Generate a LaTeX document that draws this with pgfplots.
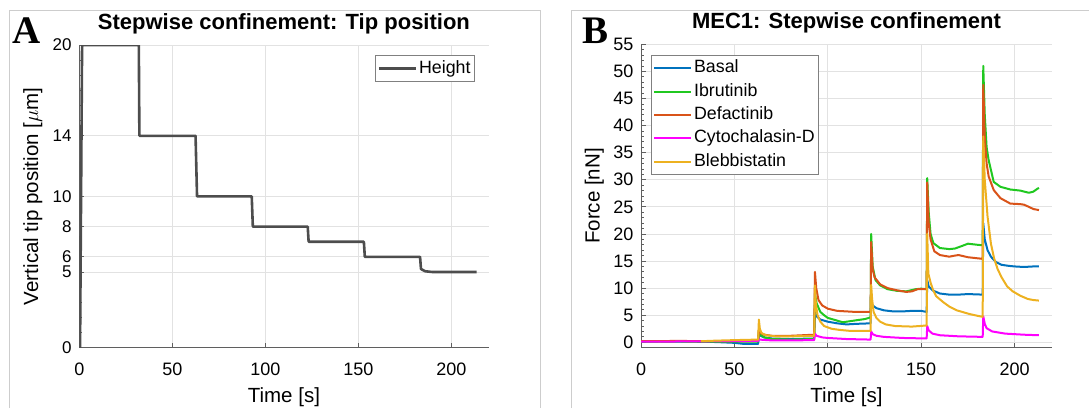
\documentclass[border=0pt]{standalone}
\usepackage{pgfplots}
\pgfplotsset{compat=1.18}
\usepackage{fontspec}
\setmainfont{Liberation Sans}
\newfontfamily\panelfont{Liberation Serif}
\definecolor{cBasal}{RGB}{0,114,189}
\definecolor{cIbru}{RGB}{32,200,32}
\definecolor{cDefa}{RGB}{217,83,25}
\definecolor{cCyto}{RGB}{255,0,255}
\definecolor{cBleb}{RGB}{237,177,32}
\definecolor{cHeight}{RGB}{77,77,77}
\definecolor{gridc}{RGB}{226,226,226}
\definecolor{axc}{RGB}{95,95,95}
\definecolor{framec}{RGB}{205,205,205}
\pgfplotsset{mystyle/.style={
  scale only axis,
  axis lines=left,
  axis line style={-, draw=axc, line width=1pt},
  tick align=inside,
  major tick length=5pt, minor tick length=3pt,
  every tick/.style={draw=axc, line width=0.8pt},
  grid=major,
  major grid style={draw=gridc, line width=0.8pt},
  xmin=0, xmax=220,
  xtick={0,50,...,200},
  /pgf/number format/assume math mode=true,
  tick label style={font=\fontsize{18}{18}\selectfont},
  xticklabel style={anchor=base, yshift=-27.3pt, inner sep=0pt},
  yticklabel style={anchor=east, xshift=-7.5pt, inner sep=0pt},
  label style={font=\fontsize{20.5}{20.5}\selectfont},
  xlabel style={at={(axis description cs:0.5,0)}, anchor=base, yshift=-54.3pt},
  ylabel style={at={(axis description cs:0,0.5)}, rotate=0, anchor=base, yshift=41.3pt},
  title style={font=\bfseries\fontsize{22}{22}\selectfont, at={(axis description cs:0.5,1)}, anchor=base, yshift=10pt},
  legend style={font=\fontsize{17.8}{17.8}\selectfont, draw=gray, line width=0.8pt, inner xsep=2pt, inner ysep=1.5pt,
     nodes={inner xsep=2pt, inner ysep=3.15pt, text height=13pt, text depth=4pt}},
  legend cell align=left,
  legend image code/.code={\draw[#1] (0pt,0pt) -- (37pt,0pt);},
}}
\begin{document}
\begin{tikzpicture}
\useasboundingbox (0pt,0pt) rectangle (1089pt,-408pt);
\draw[framec, line width=1pt] (9pt,-408pt) -- (9pt,-10pt) -- (540pt,-10pt) -- (540pt,-408pt);
\draw[framec, line width=1pt] (571pt,-408pt) -- (571pt,-10pt) -- (1089pt,-10pt);
\node[anchor=base west, inner sep=0pt, font=\panelfont\bfseries\fontsize{39}{39}\selectfont] at (12pt,-43pt) {A};
\node[anchor=base west, inner sep=0pt, font=\panelfont\bfseries\fontsize{39}{39}\selectfont] at (582pt,-43pt) {B};

\begin{axis}[mystyle,
  at={(79.3pt,-347.7pt)}, anchor=south west,
  width=409.2pt, height=302.7pt,
  ymin=0, ymax=20,
  ytick={0,5,6,8,10,14,20},
  minor ytick={1,2,3,4,7,9,11,12,13,15,16,17,18,19},
  yticklabel style={font=\fontsize{17}{17}\selectfont},
  title={Stepwise confinement: Tip position},
  xlabel={Time [s]},
  ylabel={Vertical tip position [$\mu$m]},
  legend style={at={(0.967,0.967)}, anchor=north east},
]
\addplot[cHeight, line width=2.6pt, line join=round] coordinates {
(0,0) (0.4,0) (1.5,20) (32,20) (32.3,14) (62.5,14) (63.3,10) (92.7,10) (93.3,8) (122.8,8) (123.3,7) (153,7) (153.5,6) (183.2,6) (183.7,5.2) (186,5.05) (190,5) (213.6,5)
};
\addlegendentry{Height}
\end{axis}

\begin{axis}[mystyle,
  at={(641pt,-347.7pt)}, anchor=south west,
  width=411pt, height=303.4pt,
  ymin=-1, ymax=55,
  ytick={0,5,...,55},
  minor y tick num=4,
  title={MEC1: Stepwise confinement},
  xlabel={Time [s]},
  ylabel={Force [nN]},
  legend style={at={(0.0236,0.965)}, anchor=north west},
]
\addplot[cBasal, line width=2pt, line join=round] coordinates {
(0,0.1) (10,0.15) (20,0.1) (30,0.1) (40,0.05) (50,-0.1) (55,-0.3) (62.7,-0.3) (63.1,1.6) (64,1.2) (66,0.9) (70,0.7) (80,0.6) (92.7,0.7) (93.1,5.5) (94,4.8) (96,4.2) (100,3.8) (105,3.5) (110,3.3) (115,3.4) (122.9,3.5) (123.2,7.5) (124,6.8) (126,6.3) (130,5.9) (135,5.7) (140,5.7) (145,5.8) (150,5.8) (152.9,5.6) (153.2,11.5) (154,10.3) (156,9.6) (160,9.0) (165,8.8) (170,8.8) (175,8.9) (182.9,8.8) (183.2,22) (184,19) (185.5,17) (187.3,15.8) (190,14.8) (193,14.3) (197,14.1) (200,14.0) (205,13.9) (210,14.0) (213,14.0)
};
\addlegendentry{Basal}
\addplot[cIbru, line width=2pt, line join=round] coordinates {
(0,0.1) (20,0.15) (40,0.1) (62.7,0.1) (63.1,2.2) (64,1.4) (66,0.9) (70,0.6) (80,0.5) (92.7,0.6) (93.1,9) (94,7.2) (96,5.6) (98,5.0) (100,4.5) (104,4.1) (108,3.7) (112,3.9) (116,4.1) (120,4.3) (122.9,4.6) (123.2,20) (124,14) (125.5,11.5) (128,10.5) (132,9.8) (137,9.5) (142,9.4) (147,9.8) (150,9.9) (152.9,9.8) (153.2,30.3) (154,24) (155,20) (156.5,18.3) (160,17.4) (165,17.2) (168,17.3) (172,17.8) (175,18.2) (180,18.0) (182.9,17.9) (183.2,51) (184,42) (185,36) (186.1,33.6) (188.8,29.6) (192.4,28.7) (197.7,28.2) (203,28.0) (207.6,27.6) (210,27.8) (212,28.3) (213,28.5)
};
\addlegendentry{Ibrutinib}
\addplot[cDefa, line width=2pt, line join=round] coordinates {
(0,0.2) (20,0.25) (40,0.2) (62.7,0.3) (63.1,2.5) (64,1.7) (66,1.4) (70,1.2) (80,1.2) (92.7,1.4) (93.1,13) (93.8,10) (95,7.8) (97,6.8) (100,6.2) (105,5.8) (110,5.7) (115,5.6) (122.9,5.6) (123.2,18.5) (124,13.5) (125,12) (128,10.7) (132,10.0) (137,9.6) (142,9.3) (145,9.4) (148,9.8) (152.9,9.8) (153.2,29.5) (154,22) (155,19) (157,16.8) (160,16.1) (165,15.8) (168,16.0) (170,16.1) (175,15.7) (182.9,15.4) (183.2,47.5) (184,38) (185,33) (186.1,30.6) (188.8,28.1) (192.4,26.6) (197.7,25.6) (203,25.5) (205,25.4) (207.6,25.0) (210,24.6) (213,24.4)
};
\addlegendentry{Defactinib}
\addplot[cCyto, line width=2pt, line join=round] coordinates {
(0,0.1) (20,0.15) (40,0.2) (62.7,0.25) (63.1,0.5) (70,0.35) (80,0.35) (92.7,0.4) (93.1,1.6) (94,1.2) (97,0.9) (100,0.8) (110,0.6) (122.9,0.5) (123.2,2.0) (124,1.5) (126,1.2) (130,1.0) (140,0.8) (152.9,0.7) (153.2,3.0) (154,2.2) (156,1.6) (160,1.3) (170,1.1) (182.9,1.0) (183.2,4.8) (184,3.4) (185,2.6) (188,2.0) (195,1.6) (205,1.4) (213,1.3)
};
\addlegendentry{Cytochalasin-D}
\addplot[cBleb, line width=2pt, line join=round] coordinates {
(32,0.2) (40,0.3) (50,0.4) (62.7,0.5) (63.1,4.2) (63.6,2.5) (64.5,1.7) (67,1.3) (72,1.1) (80,1.1) (92.7,1.2) (93.1,10.5) (93.6,7) (94.5,5) (96,3.8) (98,3.0) (102,2.5) (106,2.3) (112,2.1) (122.9,2.1) (123.2,10.6) (123.7,8) (124.5,5.6) (126,4.5) (128,3.8) (131,3.3) (136,3.0) (145,2.9) (152.9,3.1) (153.2,20) (153.8,12.7) (155,11) (156.4,9.6) (158,8.5) (161.8,7.4) (165,6.6) (169,5.9) (173,5.5) (176,5.2) (180,4.9) (182.9,4.7) (183.2,38) (184,30) (185.5,23.2) (187.3,18.2) (189,15.5) (190.9,13.5) (193,12) (196,10.3) (199,9.4) (203,8.6) (207,8.0) (210,7.8) (213,7.7)
};
\addlegendentry{Blebbistatin}
\end{axis}
\end{tikzpicture}
\end{document}
